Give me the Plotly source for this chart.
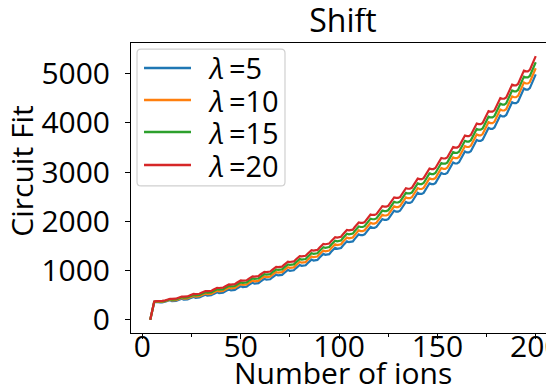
import plotly.graph_objects as go

ions = list(range(4, 201))

lam20 = [0, 190, 373, 380, 386,
         384, 384, 388, 402, 416, 427,
         424, 424, 429, 445, 462, 473,
         471, 471, 476, 494, 513, 526,
         523, 523, 529, 549, 570, 585,
         581, 581, 588, 611, 633, 650,
         646, 646, 653, 678, 703, 721,
         717, 717, 725, 752, 780, 799,
         795, 795, 803, 833, 863, 884,
         879, 879, 888, 921, 953, 976,
         971, 971, 980, 1015, 1050, 1074,
         1069, 1069, 1080, 1117, 1154, 1180,
         1175, 1175, 1186, 1226, 1265, 1294,
         1288, 1288, 1300, 1342, 1384, 1415,
         1408, 1408, 1421, 1466, 1511, 1543,
         1536, 1536, 1550, 1598, 1646, 1680,
         1672, 1672, 1687, 1738, 1788, 1824,
         1817, 1817, 1832, 1885, 1939, 1977,
         1969, 1969, 1985, 2041, 2098, 2138,
         2130, 2130, 2147, 2206, 2265, 2308,
         2299, 2299, 2316, 2379, 2441, 2486,
         2476, 2476, 2495, 2560, 2626, 2673,
         2663, 2663, 2682, 2751, 2820, 2869,
         2858, 2858, 2879, 2951, 3022, 3074,
         3063, 3063, 3084, 3159, 3234, 3288,
         3277, 3277, 3299, 3378, 3456, 3512,
         3500, 3500, 3524, 3605, 3687, 3745,
         3733, 3733, 3757, 3842, 3928, 3988,
         3976, 3976, 4001, 4090, 4178, 4241,
         4228, 4228, 4255, 4347, 4439, 4505,
         4491, 4491, 4518, 4614, 4710, 4778,
         4764, 4764, 4792, 4892, 4991, 5062,
         5047, 5047, 5077, 5180, 5283, 5356]

lam15 = [0, 186, 368, 374, 379,
         374, 374, 378, 392, 406, 417,
         409, 409, 414, 430, 447, 458,
         451, 451, 456, 474, 493, 506,
         498, 498, 504, 524, 545, 560,
         551, 551, 558, 581, 603, 620,
         612, 612, 619, 644, 669, 687,
         678, 678, 686, 713, 741, 760,
         752, 752, 760, 790, 820, 841,
         831, 831, 840, 873, 905, 928,
         919, 919, 928, 963, 998, 1022,
         1013, 1013, 1024, 1061, 1098, 1124,
         1115, 1115, 1126, 1166, 1205, 1234,
         1224, 1224, 1236, 1278, 1320, 1351,
         1340, 1340, 1353, 1398, 1443, 1475,
         1464, 1464, 1478, 1526, 1574, 1608,
         1596, 1596, 1611, 1662, 1712, 1748,
         1737, 1737, 1752, 1805, 1859, 1897,
         1886, 1886, 1902, 1958, 2015, 2055,
         2043, 2043, 2060, 2119, 2178, 2221,
         2209, 2209, 2226, 2289, 2351, 2396,
         2383, 2383, 2402, 2467, 2533, 2580,
         2567, 2567, 2586, 2655, 2724, 2773,
         2758, 2758, 2779, 2851, 2922, 2974,
         2961, 2961, 2982, 3057, 3132, 3186,
         3172, 3172, 3194, 3273, 3351, 3407,
         3392, 3392, 3416, 3497, 3579, 3637,
         3622, 3622, 3646, 3731, 3817, 3877,
         3862, 3862, 3887, 3976, 4064, 4127,
         4112, 4112, 4139, 4231, 4323, 4389,
         4372, 4372, 4399, 4495, 4591, 4659,
         4643, 4643, 4671, 4771, 4870, 4941,
         4924, 4924, 4954, 5057, 5160, 5233]

lam10 = [0, 182, 363, 368, 372,
         364, 364, 368, 382, 396, 407,
         394, 394, 399, 415, 432, 443,
         431, 431, 436, 454, 473, 486,
         473, 473, 479, 499, 520, 535,
         521, 521, 528, 551, 573, 590,
         578, 578, 585, 610, 635, 653,
         639, 639, 647, 674, 702, 721,
         709, 709, 717, 747, 777, 798,
         783, 783, 792, 825, 857, 880,
         867, 867, 876, 911, 946, 970,
         957, 957, 968, 1005, 1042, 1068,
         1055, 1055, 1066, 1106, 1145, 1174,
         1160, 1160, 1172, 1214, 1256, 1287,
         1272, 1272, 1285, 1330, 1375, 1407,
         1392, 1392, 1406, 1454, 1502, 1536,
         1520, 1520, 1535, 1586, 1636, 1672,
         1657, 1657, 1672, 1725, 1779, 1817,
         1803, 1803, 1819, 1875, 1932, 1972,
         1956, 1956, 1973, 2032, 2091, 2134,
         2119, 2119, 2136, 2199, 2261, 2306,
         2290, 2290, 2309, 2374, 2440, 2487,
         2471, 2471, 2490, 2559, 2628, 2677,
         2658, 2658, 2679, 2751, 2822, 2874,
         2859, 2859, 2880, 2955, 3030, 3084,
         3067, 3067, 3089, 3168, 3246, 3302,
         3284, 3284, 3308, 3389, 3471, 3529,
         3511, 3511, 3535, 3620, 3706, 3766,
         3748, 3748, 3773, 3862, 3950, 4013,
         3996, 3996, 4023, 4115, 4207, 4273,
         4253, 4253, 4280, 4376, 4472, 4540,
         4522, 4522, 4550, 4650, 4749, 4820,
         4801, 4801, 4831, 4934, 5037, 5110]

lam5 = [0, 178, 358, 362, 365,
        354, 354, 358, 372, 386, 397,
        379, 379, 384, 400, 417, 428,
        411, 411, 416, 434, 453, 466,
        448, 448, 454, 474, 495, 510,
        491, 491, 498, 521, 543, 560,
        544, 544, 551, 576, 601, 619,
        600, 600, 608, 635, 663, 682,
        666, 666, 674, 704, 734, 755,
        735, 735, 744, 777, 809, 832,
        815, 815, 824, 859, 894, 918,
        901, 901, 912, 949, 986, 1012,
        995, 995, 1006, 1046, 1085, 1114,
        1096, 1096, 1108, 1150, 1192, 1223,
        1204, 1204, 1217, 1262, 1307, 1339,
        1320, 1320, 1334, 1382, 1430, 1464,
        1444, 1444, 1459, 1510, 1560, 1596,
        1577, 1577, 1592, 1645, 1699, 1737,
        1720, 1720, 1736, 1792, 1849, 1889,
        1869, 1869, 1886, 1945, 2004, 2047,
        2029, 2029, 2046, 2109, 2171, 2216,
        2197, 2197, 2216, 2281, 2347, 2394,
        2375, 2375, 2394, 2463, 2532, 2581,
        2558, 2558, 2579, 2651, 2722, 2774,
        2757, 2757, 2778, 2853, 2928, 2982,
        2962, 2962, 2984, 3063, 3141, 3197,
        3176, 3176, 3200, 3281, 3363, 3421,
        3400, 3400, 3424, 3509, 3595, 3655,
        3634, 3634, 3659, 3748, 3836, 3899,
        3880, 3880, 3907, 3999, 4091, 4157,
        4134, 4134, 4161, 4257, 4353, 4421,
        4401, 4401, 4429, 4529, 4628, 4699,
        4678, 4678, 4708, 4811, 4914, 4987]

series_names = ["<i>λ</i>\u2009=5", "<i>λ</i>\u2009=10", "<i>λ</i>\u2009=15", "<i>λ</i>\u2009=20"]
series_values = [lam5, lam10, lam15, lam20]
series_colors = ["#1f77b4", "#ff7f0e", "#2ca02c", "#d62728"]

x_ticks = [0, 50, 100, 150, 200]
x_minor_ticks = [25, 75, 125, 175]
y_ticks = [0, 1000, 2000, 3000, 4000, 5000]

FONT = "Open Sans"

fig = go.Figure()
for name, vals, col in zip(series_names, series_values, series_colors):
    fig.add_trace(go.Scatter(x=ions, y=vals, mode="lines", name=name,
                             line=dict(color=col, width=2.2), showlegend=False))

# legend box in the upper-left corner of the axes (paper coordinates)
lx0, lx1, ly0, ly1 = 0.0142, 0.3632, 0.507, 0.979
rdx, rdy = 0.0094, 0.0138
legend_path = (f"M {lx0+rdx},{ly0} L {lx1-rdx},{ly0} Q {lx1},{ly0} {lx1},{ly0+rdy} "
               f"L {lx1},{ly1-rdy} Q {lx1},{ly1} {lx1-rdx},{ly1} "
               f"L {lx0+rdx},{ly1} Q {lx0},{ly1} {lx0},{ly1-rdy} "
               f"L {lx0},{ly0+rdy} Q {lx0},{ly0} {lx0+rdx},{ly0} Z")
row_y = [0.9138, 0.8034, 0.6931, 0.5793]
sample_x0, sample_x1, text_x = 0.0307, 0.1415, 0.177

shapes = [dict(type="path", xref="paper", yref="paper", path=legend_path,
               line=dict(color="#d0d0d0", width=1.2), fillcolor="white",
               layer="above")]
annotations = []
for name, col, yy in zip(series_names, series_colors, row_y):
    shapes.append(dict(type="line", xref="paper", yref="paper",
                       x0=sample_x0, x1=sample_x1, y0=yy, y1=yy,
                       line=dict(color=col, width=2.6), layer="above"))
    annotations.append(dict(text=name, xref="paper", yref="paper",
                            x=text_x, y=yy, xanchor="left", yanchor="middle",
                            showarrow=False,
                            font=dict(family=FONT, size=29, color="black")))

# axis titles
annotations.append(dict(text="Number of ions", xref="paper", yref="paper",
                        x=0.5, y=-0.137, xanchor="center", yanchor="middle",
                        showarrow=False,
                        font=dict(family=FONT, size=30, color="black")))
annotations.append(dict(text="Circuit Fit", xref="paper", yref="paper",
                        x=-0.259, y=0.557, xanchor="center", yanchor="middle",
                        textangle=-90, showarrow=False,
                        font=dict(family=FONT, size=30, color="black")))

fig.update_layout(
    template="none",
    width=554, height=391,
    margin=dict(l=123, r=7, t=35, b=66, pad=0),
    paper_bgcolor="white", plot_bgcolor="white",
    font=dict(family=FONT, size=30, color="black"),
    title=dict(text="Shift", x=0.5, xref="paper", xanchor="center",
               y=1 - 12.5 / 391, yref="container", yanchor="middle",
               font=dict(family=FONT, size=32, color="black")),
    showlegend=False,
    shapes=shapes,
    annotations=annotations,
)

fig.update_xaxes(range=[-5.8, 209.8], tickvals=x_ticks, ticks="outside",
                 ticklen=5, tickwidth=1, tickcolor="black",
                 tickfont=dict(family=FONT, size=30, color="black"),
                 ticklabeloverflow="allow", ticklabelstandoff=-18,
                 showline=True, mirror=True, linecolor="black", linewidth=1,
                 showgrid=False, zeroline=False, automargin=False,
                 minor=dict(tickvals=x_minor_ticks, ticks="outside", ticklen=3,
                            tickcolor="black", showgrid=False))
fig.update_yaxes(range=[-268, 5624], tickvals=y_ticks, ticks="outside",
                 ticklen=5, tickwidth=1, tickcolor="black",
                 tickfont=dict(family=FONT, size=30, color="black"),
                 ticklabeloverflow="allow", ticklabelstandoff=9,
                 showline=True, mirror=True, linecolor="black", linewidth=1,
                 showgrid=False, zeroline=False, automargin=False)

fig.write_html("out.html")
